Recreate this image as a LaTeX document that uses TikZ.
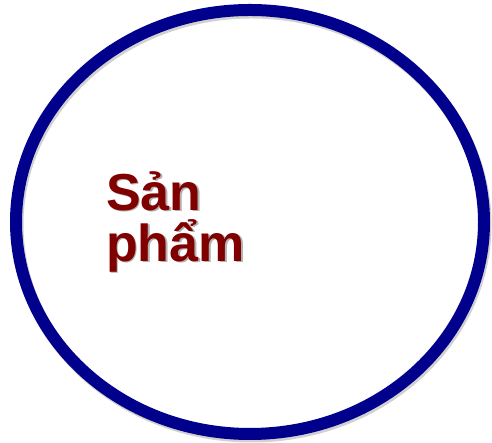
\documentclass[tikz,border=0pt]{standalone}
\usepackage{fontspec}
\setmainfont{Liberation Sans}
\usetikzlibrary{shapes.geometric}
\definecolor{ringblue}{RGB}{0,0,140}
\definecolor{labelred}{RGB}{128,0,0}

\begin{document}
\begin{tikzpicture}[x=1pt,y=1pt,
  ringshape/.style={ellipse, draw=ringblue, line width=12pt, inner sep=0pt,
    minimum width=468pt, minimum height=424pt},
  label/.style={anchor=north west, align=left, inner sep=0pt, text=labelred,
    font=\bfseries\fontsize{52}{51}\selectfont}]
\useasboundingbox (0,0) rectangle (492,443);
% shadows
\node[ringshape, draw=black, opacity=0.18] at (251.5,218.5) {};
\node[label, text=black, opacity=0.3] at (107.5,270.5) {Sản\\phẩm};
% ring and text
\node[ringshape] (ring) at (250,221) {};
\node[label] (sanpham) at (106,272) {Sản\\phẩm};
\end{tikzpicture}
\end{document}
